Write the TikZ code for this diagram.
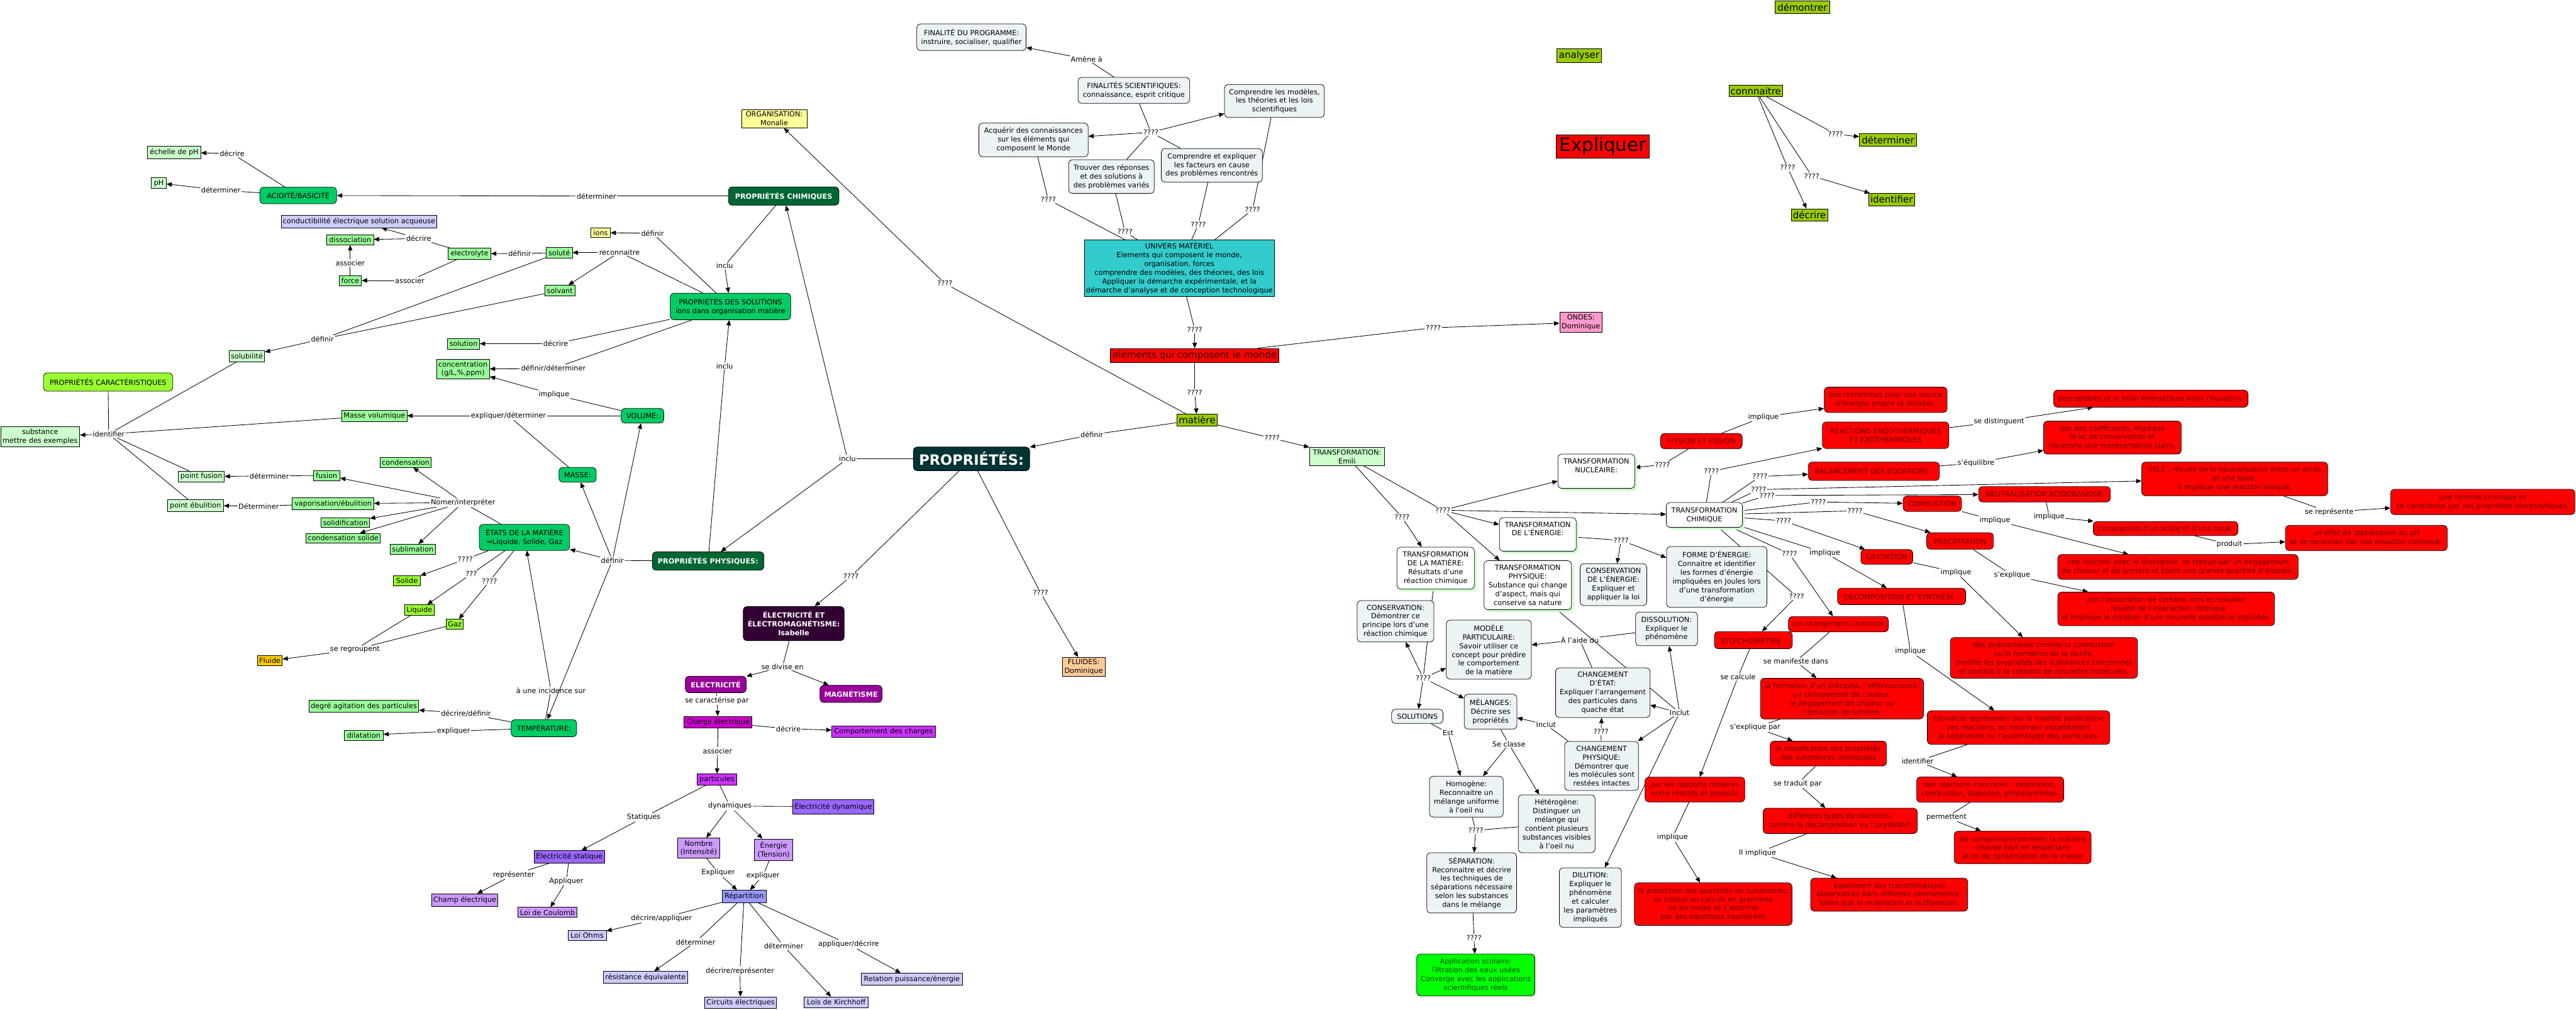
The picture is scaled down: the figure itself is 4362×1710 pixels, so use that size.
\documentclass[tikz,border=0pt]{standalone}
\usepackage{fontspec}
\setmainfont{DejaVu Sans}
\usetikzlibrary{arrows.meta}
\pgfdeclarelayer{bg}
\pgfsetlayers{bg,main}
\definecolor{cpale}{HTML}{CCFFCC}
\definecolor{cmid}{HTML}{99FF99}
\definecolor{cchart}{HTML}{99FF33}
\definecolor{cgreen}{HTML}{00CC66}
\definecolor{cdkgreen}{HTML}{006633}
\definecolor{cprop}{HTML}{003333}
\definecolor{cgray}{HTML}{ECF3F5}
\definecolor{cred}{HTML}{FF0000}
\definecolor{credtxt}{HTML}{6A0000}
\definecolor{cyel}{HTML}{FFFF99}
\definecolor{clav}{HTML}{CCCCFF}
\definecolor{colive}{HTML}{99CC00}
\definecolor{cteal}{HTML}{33CCCC}
\definecolor{cfluides}{HTML}{FFCC99}
\definecolor{condes}{HTML}{FF99CC}
\definecolor{cfluide}{HTML}{FFCC00}
\definecolor{cdkpurp}{HTML}{330033}
\definecolor{cpurp}{HTML}{990099}
\definecolor{cmag}{HTML}{CC00CC}
\definecolor{cviol}{HTML}{CC33FF}
\definecolor{cmedp}{HTML}{9966FF}
\definecolor{cltp}{HTML}{CC99FF}
\definecolor{cbluep}{HTML}{9999FF}
\definecolor{cappl}{HTML}{00FF00}
\definecolor{cshad}{HTML}{CCFFCC}
\newcommand\myfnt{\fontsize{12}{14.8}\selectfont}
\newcommand\Ep[2]{\draw[cline] (#1) -- (#2);}
\newcommand\Ea[2]{\draw[carr] (#1) -- (#2);}
\begin{document}
\begin{tikzpicture}[x=1pt,y=-1pt,
 every node/.style={font=\myfnt},
 bx/.style={draw=black, line width=0.8pt, align=center, inner sep=2.5pt},
 rbx/.style={bx, rounded corners=6pt},
 sz/.style 2 args={minimum width=#1pt, minimum height=#2pt},
 pale/.style={bx, fill=cpale},
 midg/.style={bx, fill=cmid},
 chart/.style={bx, fill=cchart},
 grn/.style={rbx, fill=cgreen},
 dkg/.style={rbx, fill=cdkgreen, text=white, font=\myfnt\bfseries},
 gbx/.style={rbx, fill=cgray},
 twh/.style={rbx, fill=white, preaction={fill=cshad, draw=none, transform canvas={shift={(4pt,-4pt)}}}},
 redb/.style={bx, fill=cred, text=credtxt},
 redr/.style={rbx, fill=cred, text=credtxt},
 yel/.style={bx, fill=cyel},
 lav/.style={bx, fill=clav},
 olv/.style={bx, fill=colive, font=\fontsize{16}{19}\selectfont},
 lab/.style={inner sep=1.5pt, align=center},
 cline/.style={draw=black, line width=0.9pt},
 carr/.style={cline, -{Triangle[length=9pt,width=7.5pt]}},
]
\begin{pgfonlayer}{bg}
\fill[white] (0,0) rectangle (4362,1710);
\end{pgfonlayer}
\useasboundingbox (0,0) rectangle (4362,1710);

% ===== top =====
\node[gbx,sz={185}{45}] (fprog) at (1645,63) {FINALITÉ DU PROGRAMME:\\instruire, socialiser, qualifier};
\node[gbx,sz={189}{44}] (fsci) at (1920,153) {FINALITÉS SCIENTIFIQUES:\\connaissance, esprit critique};
\node[gbx,sz={169}{56}] (cmod) at (2158,171) {Comprendre les modèles,\\les théories et les lois\\scientifiques};
\node[gbx,sz={185}{57}] (acq) at (1750,237) {Acquérir des connaissances\\sur les éléments qui\\composent le Monde};
\node[gbx,sz={145}{57}] (trouv) at (1882,299) {Trouver des réponses\\et des solutions à\\des problèmes variés};
\node[gbx,sz={171}{57}] (cexp) at (2052,280) {Comprendre et expliquer\\les facteurs en cause\\des problèmes rencontrés};
\node[bx,fill=cteal,sz={319}{95}] (univ) at (1997,454) {UNIVERS MATÉRIEL\\Elements qui composent le monde,\\organisation, forces\\comprendre des modèles, des théories, des lois\\Appliquer la démarche expérimentale, et la\\démarche d'analyse et de conception technologique};
\node[yel,sz={111}{31}] (org) at (1311,201) {ORGANISATION:\\Monalie};
\node[redb,text=black!80!red,sz={285}{24},font=\fontsize{16}{19}\selectfont,inner sep=1pt] (elem) at (2023,602) {eléments qui composent le monde};
\node[bx,fill=colive,sz={69}{20},font=\fontsize{16}{19}\selectfont,inner sep=1pt] (matiere) at (2027,711) {matière};
\node[bx,fill=condes,sz={72}{34}] (ondes) at (2677,546) {ONDES:\\Dominique};
\node[rbx,fill=cprop,text=white,sz={197}{40},font=\fontsize{24}{28}\selectfont\bfseries] (proprietes) at (1645,777) {PROPRIÉTÉS:};
\node[dkg,sz={187}{31}] (pchim) at (1327,332) {PROPRIÉTÉS CHIMIQUES};
\node[grn,sz={204}{45}] (psol) at (1237,519) {PROPRIÉTÉS DES SOLUTIONS\\ions dans organisation matière};
\node[dkg,sz={189}{31}] (pphys) at (1199,950) {PROPRIÉTÉS PHYSIQUES:};
\node[rbx,fill=cdkpurp,text=white,font=\myfnt\bfseries,sz={171}{58}] (elecem) at (1344,1056) {ÉLECTRICITÉ ET\\ÉLECTROMAGNÉTISME:\\Isabelle};
\node[bx,fill=cfluides,sz={72}{32}] (fluides) at (1835,1129) {FLUIDES:\\Dominique};

\node[olv,sz={92}{21},inner sep=1pt] (demontrer) at (3052,12) {démontrer};
\node[olv,sz={75}{23},inner sep=1pt] (analyser) at (2674,94) {analyser};
\node[olv,sz={91}{19},inner sep=1pt] (connaitre) at (2973,154) {connnaitre};
\node[olv,sz={97}{21},inner sep=1pt] (determiner) at (3197,237) {déterminer};
\node[olv,sz={78}{21},inner sep=1pt] (identifier) at (3203,338) {identifier};
\node[olv,sz={62}{21},inner sep=1pt] (decrire) at (3064,364) {décrire};
\node[bx,fill=cred,sz={157}{39},font=\fontsize{31}{34}\selectfont,inner sep=1pt] (expliquer) at (2714,248) {Expliquer};

% ===== acid / solutions =====
\node[pale,sz={90}{21}] (echelle) at (295,258) {échelle de pH};
\node[pale,sz={25}{18}] (ph) at (269,310) {pH};
\node[grn,sz={130}{28}] (acid) at (505,331) {ACIDITÉ/BASICITÉ};
\node[lav,sz={262}{21}] (cond) at (608,375) {conductibilité électrique solution acqueuse};
\node[midg,sz={79}{17}] (dissoc) at (593,406) {dissociation};
\node[midg,sz={38}{17}] (force) at (593,475) {force};
\node[midg,sz={72}{19}] (electrolyte) at (795,430) {electrolyte};
\node[midg,sz={44}{19}] (solute) at (947,428) {soluté};
\node[yel,sz={33}{16}] (ions) at (1017,394) {ions};
\node[midg,sz={51}{18}] (solvant) at (948,492) {solvant};
\node[pale,sz={60}{19}] (solubilite) at (418,603) {solubilité};
\node[midg,sz={54}{18}] (solution) at (785,582) {solution};
\node[midg,sz={90}{33}] (concentration) at (784,625) {concentration\\(g/L,\%,ppm)};
\node[rbx,fill=cchart,sz={219}{31}] (pcar) at (183,647) {PROPRIÉTÉS CARACTÉRISTIQUES};
\node[midg,sz={110}{19}] (massevol) at (634,704) {Masse volumique};
\node[grn,sz={72}{25}] (volume) at (1088,704) {VOLUME:};
\node[pale,sz={134}{34}] (substance) at (68,739) {substance\\mettre des exemples};
\node[pale,sz={78}{18}] (pfusion) at (341,807) {point fusion};
\node[midg,sz={45}{17}] (fusion) at (553,805) {fusion};
\node[midg,sz={86}{17}] (condensation) at (687,783) {condensation};
\node[pale,sz={95}{20}] (pebul) at (331,856) {point ébulition};
\node[midg,sz={138}{20}] (vapor) at (564,853) {vaporisation/ébulition};
\node[midg,sz={82}{16}] (solidif) at (585,885) {solidification};
\node[midg,sz={126}{16}] (condsol) at (581,911) {condensation solide};
\node[midg,sz={76}{17}] (sublim) at (699,930) {sublimation};
\node[grn,sz={153}{44}] (etats) at (888,910) {ÉTATS DE LA MATIÈRE\\=Liquide, Solide, Gaz};
\node[grn,sz={63}{25}] (masse) at (978,804) {MASSE:};
\node[chart,sz={45}{17}] (solide) at (689,983) {Solide};
\node[chart,sz={50}{18}] (liquide) at (710,1033) {Liquide};
\node[chart,sz={29}{17}] (gaz) at (770,1057) {Gaz};
\node[bx,fill=cfluide,sz={42}{17}] (fluide) at (457,1119) {Fluide};
\node[midg,sz={186}{20}] (agitation) at (616,1196) {degré agitation des particules};
\node[grn,sz={111}{29}] (temperature) at (921,1233) {TEMPÉRATURE:};
\node[midg,sz={66}{17}] (dilatation) at (616,1245) {dilatation};

% ===== electricity =====
\node[rbx,fill=cpurp,text=white,font=\myfnt\bfseries,sz={103}{28}] (electricite) at (1212,1159) {ELECTRICITÉ};
\node[rbx,fill=cpurp,text=white,font=\myfnt\bfseries,sz={105}{29}] (magnetisme) at (1441,1175) {MAGNÉTISME};
\node[bx,fill=cmag,sz={115}{20}] (charge) at (1216,1223) {Charge électrique};
\node[bx,fill=cviol,sz={175}{20}] (comport) at (1496,1239) {Comportement des charges};
\node[bx,fill=cviol,sz={67}{19}] (particules) at (1214,1320) {particules};
\node[bx,fill=cmedp,sz={137}{24}] (edyn) at (1411,1366) {Électricité dynamique};
\node[bx,fill=cmedp,sz={119}{21}] (estat) at (964,1451) {Electricité statique};
\node[bx,fill=cltp,sz={112}{21}] (champ) at (787,1524) {Champ électrique};
\node[bx,fill=cltp,sz={100}{17}] (coulomb) at (927,1545) {Loi de Coulomb};
\node[bx,fill=cltp,sz={72}{34}] (nombre) at (1183,1436) {Nombre\\(Intensité)};
\node[bx,fill=cltp,sz={65}{37}] (energie) at (1310,1439) {Énergie\\(Tension)};
\node[bx,fill=cbluep,sz={74}{21}] (repart) at (1260,1518) {Répartition};
\node[lav,sz={65}{17}] (ohms) at (994,1584) {Loi Ohms};
\node[lav,sz={143}{20}] (resist) at (1093,1655) {résistance équivalente};
\node[lav,sz={122}{20}] (circuits) at (1254,1698) {Circuits électriques};
\node[lav,sz={109}{18}] (kirch) at (1416,1697) {Lois de Kirchhoff};
\node[lav,sz={171}{20}] (relation) at (1544,1658) {Relation puissance/énergie};

% ===== transformation =====
\node[pale,sz={127}{31}] (trans) at (2281,773) {TRANSFORMATION:\\Emili};
\node[twh,sz={130}{58}] (tnuc) at (2703,798) {TRANSFORMATION\\NUCLÉAIRE:\\\strut};
\node[twh,sz={130}{57}] (tener) at (2604,905) {TRANSFORMATION\\DE L'ÉNERGIE:\\\strut};
\node[twh,sz={131}{71}] (tmat) at (2431,962) {TRANSFORMATION\\DE LA MATIÈRE:\\Résultats d'une\\réaction chimique};
\node[twh,sz={148}{83}] (tphys) at (2587,991) {TRANSFORMATION\\PHYSIQUE:\\Substance qui change\\d'aspect, mais qui\\conserve sa nature};
\node[twh,sz={129}{42}] (tchim) at (2886,872) {TRANSFORMATION\\CHIMIQUE};
\node[redr,sz={138}{26}] (fission) at (2881,747) {FISSION ET FUSION};
\node[redr,sz={208}{43}] (recherche) at (3193,677) {des recherches pour une source\\d'énergie propre et durable.};
\node[redr,sz={214}{45}] (reac) at (3193,737) {RÉACTIONS ENDOTHERMIQUES\\ET EXOTHERMIQUES};
\node[redr,sz={329}{29}] (percept) at (3642,675) {perceptibles et le bilan énergétique dans l'équation.};
\node[redr,sz={222}{31}] (balanc) at (3173,798) {BALANCEMENT DES ÉQUATIONS :};
\node[redr,sz={233}{56}] (coeff) at (3577,741) {par des coefficients, implique\\la loi de conservation et\\nécessite une représentation claire.};
\node[redr,sz={315}{57}] (sels) at (3784,811) {SELS : résulte de la neutralisation entre un acide\\et une base.\\Il implique une réaction ionique,};
\node[redr,sz={312}{43}] (formule) at (4204,850) {une formule chimique et\\se caractérise par ses propriétés électrolytiques.};
\node[redr,sz={223}{26}] (neutral) at (3462,837) {NEUTRALISATION ACIDOBASIQUE};
\node[redr,sz={245}{24}] (interac) at (3667,895) {l'interaction d'un acide et d'une base.};
\node[redr,sz={274}{43}] (stabil) at (4007,911) {un effet de stabilisation du pH\\et se reconnait par son équation chimique.};
\node[redr,sz={99}{26}] (combustion) at (3272,853) {COMBUSTION};
\node[redr,sz={407}{42}] (dioxy) at (3688,960) {une réaction avec le dioxygène, se traduit par un dégagement\\de chaleur et de lumière et libère une grande quantité d'énergie.};
\node[redr,sz={113}{28}] (precip) at (3319,916) {PRÉCIPITATION};
\node[redr,sz={367}{57}] (assoc) at (3668,1031) {par l'association de certains ions en solution\\, résulte de l'interaction chimique\\et implique la création d'une nouvelle substance insoluble.};
\node[redr,sz={88}{25}] (oxyd) at (3195,943) {OXYDATION};
\node[redr,sz={317}{69}] (phenom) at (3461,1114) {des phénomènes comme la combustion\\ou la formation de la rouille,\\modifie les propriétés des substances concernées\\et conduit à la création de nouvelles molécules.};
\node[redr,sz={217}{28}] (decomp) at (3220,1010) {DÉCOMPOSITION ET SYNTHÈSE :};
\node[redr,sz={309}{57}] (connrep) at (3418,1232) {connaître représenter par le modèle particulaire\\ces réactions, en montrant visuellement\\la séparation ou l'assemblage des particules.};
\node[redr,sz={249}{43}] (concretes) at (3370,1337) {des réactions concrètes : respiration,\\combustion, digestion, photosynthèse.};
\node[redr,sz={232}{55}] (comprendre) at (3425,1435) {de comprendrecomment la matière\\change tout en respectant\\la loi de conservation de la masse};
\node[redr,sz={169}{26}] (chgchim) at (3113,1057) {Un changement chimique};
\node[redr,sz={276}{69}] (formation) at (3119,1183) {la formation d'un précipité, l'effervescence,\\un changement de couleur,\\le dégagement de chaleur ou\\l'émission de lumière.};
\node[redr,sz={197}{42}] (modif) at (3096,1276) {la modification des propriétés\\des substances impliquées};
\node[redr,sz={261}{43}] (types) at (3116,1390) {différents types de réactions,\\comme la décomposition ou l'oxydation.};
\node[redr,sz={266}{56}] (egal) at (3199,1515) {également des transformations\\observables dans different phenomenes:\\telles que la respiration et la digestion.};
\node[redr,sz={132}{29}] (stoe) at (2969,1084) {STŒCHIOMÉTRIE :};
\node[redr,sz={169}{42}] (rapports) at (2870,1337) {par les rapports molaires\\entre réactifs et produits};
\node[redr,sz={267}{72}] (predic) at (2901,1531) {la prédiction des quantités de substances,\\se traduit en calculs en grammes\\ou en moles et s'exprime\\par des équations équilibrées};

\node[gbx,sz={113}{71}] (consener) at (2732,990) {CONSERVATION\\DE L'ÉNERGIE:\\Expliquer et\\appliquer la loi};
\node[gbx,sz={170}{103}] (forme) at (2907,977) {FORME D'ÉNERGIE:\\Connaitre et identifier\\les formes d'énergie\\impliquées en Joules lors\\d'une transformation\\d'énergie};
\node[gbx,sz={130}{70}] (conserv) at (2363,1052) {CONSERVATION:\\Démontrer ce\\principe lors d'une\\réaction chimique};
\node[gbx,sz={144}{100}] (modele) at (2521,1100) {MODÈLE\\PARTICULAIRE:\\Savoir utiliser ce\\concept pour prédire\\le comportement\\de la matière};
\node[gbx,sz={105}{57}] (dissol) at (2822,1065) {DISSOLUTION:\\Expliquer le\\phénomène};
\node[gbx,sz={87}{24}] (solutions) at (2400,1213) {SOLUTIONS};
\node[gbx,sz={89}{59}] (melanges) at (2524,1205) {MÉLANGES:\\Décrire ses\\propriétés};
\node[gbx,sz={160}{84}] (chgetat) at (2714,1173) {CHANGEMENT\\D'ÉTAT:\\Expliquer l'arrangement\\des particules dans\\quache état};
\node[gbx,sz={125}{83}] (chgphys) at (2712,1297) {CHANGEMENT\\PHYSIQUE:\\Démontrer que\\les molécules sont\\restées intactes};
\node[gbx,sz={125}{69}] (homog) at (2483,1349) {Homogène:\\Reconnaitre un\\mélange uniforme\\à l'oeil nu};
\node[gbx,sz={130}{98}] (heterog) at (2636,1395) {Hétérogène:\\Distinguer un\\mélange qui\\contient plusieurs\\substances visibles\\à l'oeil nu};
\node[gbx,sz={152}{102}] (separ) at (2492,1495) {SÉPARATION:\\Reconnaitre et décrire\\les techniques de\\séparations nécessaire\\selon les substances\\dans le mélange};
\node[rbx,fill=cappl,text=black!70!green,sz={200}{71}] (appli) at (2499,1651) {Application scolaire:\\Filtration des eaux usées\\Converge avec les applications\\scientifiques réels};
\node[gbx,sz={105}{101}] (dilution) at (2693,1520) {DILUTION:\\Expliquer le\\phénomène\\et calculer\\les paramètres\\impliqués};

% ===== linking phrases =====
\node[lab] (lamene) at (1840,100) {Amène à};
\node[lab] (lqfsci) at (1949,224) {????};
\node[lab] (lqa) at (1775,338) {????};
\node[lab] (lqt) at (1905,392) {????};
\node[lab] (lqc) at (2029,380) {????};
\node[lab] (lqm) at (2121,355) {????};
\node[lab] (lqelem) at (2023,558) {????};
\node[lab] (lqmat) at (2023,665) {????};
\node[lab] (lqondes) at (2427,555) {????};
\node[lab] (lqorg) at (1600,480) {????};
\node[lab] (ldefprop) at (1849,736) {définir};
\node[lab] (lqtrans) at (2154,742) {????};
\node[lab] (linclu3) at (1435,777) {inclu};
\node[lab] (lqelec) at (1441,976) {????};
\node[lab] (lqfluid) at (1762,1004) {????};
\node[lab] (linclu1) at (1227,450) {inclu};
\node[lab] (linclu2) at (1227,620) {inclu};
\node[lab] (lchimdet) at (1010,332) {déterminer};
\node[lab] (lacdecr) at (393,260) {décrire};
\node[lab] (lacdet) at (374,322) {déterminer};
\node[lab] (ldefions) at (1105,395) {définir};
\node[lab] (lrecon) at (1049,427) {reconnaitre};
\node[lab] (ldecrsol) at (941,582) {décrire};
\node[lab] (ldefdet) at (937,624) {définir/déterminer};
\node[lab] (ldef1) at (880,429) {définir};
\node[lab] (leldecr) at (709,404) {décrire};
\node[lab] (lassoc2) at (694,475) {associer};
\node[lab] (lassoc1) at (593,445) {associer};
\node[lab] (ldefsolub) at (546,574) {définir};
\node[lab] (limplvol) at (938,668) {implique};
\node[lab] (lexpdet) at (861,704) {expliquer/déterminer};
\node[lab] (lident) at (184,735) {identifier};
\node[lab] (ldetf) at (456,806) {déterminer};
\node[lab] (ldete) at (438,857) {Déterminer};
\node[lab] (lnomer) at (784,851) {Nomer/interpréter};
\node[lab] (ldefphys) at (1037,949) {définir};
\node[lab] (lqsol) at (788,947) {????};
\node[lab] (lqliq) at (798,972) {???};
\node[lab] (lqgaz) at (829,984) {????};
\node[lab] (lregroup) at (601,1100) {se regroupent};
\node[lab] (lincid) at (933,1169) {à une incidence sur};
\node[lab] (ldecrdef) at (789,1208) {décrire/définir};
\node[lab] (lexpldil) at (768,1238) {expliquer};

\node[lab] (ldivise) at (1325,1129) {se divise en};
\node[lab] (lcaract) at (1214,1186) {se caractérise par};
\node[lab] (ldecrch) at (1335,1234) {décrire};
\node[lab] (lassocch) at (1215,1272) {associer};
\node[lab] (ldyn) at (1236,1365) {dynamiques};
\node[lab] (lstat) at (1090,1384) {Statiques};
\node[lab] (lrepr) at (870,1481) {représenter};
\node[lab] (lappl) at (959,1492) {Appliquer};
\node[lab] (lExpl) at (1216,1478) {Expliquer};
\node[lab] (lexpl) at (1292,1483) {expliquer};
\node[lab] (ldecrappl) at (1120,1555) {décrire/appliquer};
\node[lab] (ldetr) at (1178,1595) {déterminer};
\node[lab] (ldecrrep) at (1253,1644) {décrire/représenter};
\node[lab] (ldetk) at (1327,1602) {déterminer};
\node[lab] (lappdec) at (1437,1599) {appliquer/décrire};

\node[lab] (lqdet) at (3108,227) {????};
\node[lab] (lqdec) at (3027,284) {????};
\node[lab] (lqid) at (3068,298) {????};

\node[lab] (lhub) at (2443,864) {????};
\node[lab] (lqtm) at (2374,876) {????};
\node[lab] (lqfis) at (2815,787) {????};
\node[lab] (limplfis) at (2986,706) {implique};
\node[lab] (lqreac) at (2898,798) {????};
\node[lab] (ldisting) at (3385,714) {se distinguent};
\node[lab] (lqbal) at (2980,807) {????};
\node[lab] (lequil) at (3346,784) {s'équilibre};
\node[lab] (lqsels) at (2978,829) {????};
\node[lab] (lrepres) at (3944,867) {se représente};
\node[lab] (lqneut) at (2992,839) {????};
\node[lab] (limplneut) at (3470,875) {implique};
\node[lab] (lproduit) at (3775,922) {produit};
\node[lab] (lqcomb) at (3079,850) {????};
\node[lab] (limplcomb) at (3378,881) {implique};
\node[lab] (lqprec) at (3141,865) {????};
\node[lab] (lsexpl) at (3407,974) {s'explique};
\node[lab] (lqoxy) at (3020,882) {????};
\node[lab] (limploxy) at (3312,969) {implique};
\node[lab] (limpldec) at (3090,936) {implique};
\node[lab] (limpldec2) at (3235,1103) {implique};
\node[lab] (lident2) at (3247,1289) {identifier};
\node[lab] (lpermet) at (3296,1384) {permettent};
\node[lab] (lqchg) at (3030,938) {????};
\node[lab] (lmanif) at (3041,1120) {se manifeste dans};
\node[lab] (lsexplp) at (2972,1232) {s'explique par};
\node[lab] (ltraduit) at (3044,1327) {se traduit par};
\node[lab] (lilimpl) at (2976,1444) {Il implique};
\node[lab] (lqstoe) at (3042,1010) {????};
\node[lab] (lcalc) at (2943,1146) {se calcule};
\node[lab] (limplrap) at (2832,1418) {implique};
\node[lab] (lqener) at (2745,915) {????};
\node[lab] (lqtmat) at (2410,1148) {????};
\node[lab] (laide) at (2675,1083) {À l'aide du};
\node[lab] (linclut1) at (2844,1207) {Inclut};
\node[lab] (linclut2) at (2618,1227) {Inclut};
\node[lab] (lqcp) at (2711,1239) {????};
\node[lab] (lest) at (2452,1241) {Est};
\node[lab] (lclasse) at (2555,1260) {Se classe};
\node[lab] (lqsep) at (2499,1406) {????};
\node[lab] (lqapp) at (2496,1588) {????};

% ===== connectors =====
\begin{pgfonlayer}{bg}
\Ep{fsci}{lamene}\Ea{lamene}{fprog}
\Ep{fsci}{lqfsci}\Ea{lqfsci}{acq}\Ea{lqfsci}{cmod}\Ep{lqfsci}{trouv}\Ep{lqfsci}{cexp}
\Ep{acq}{lqa}\Ep{lqa}{univ}
\Ep{trouv}{lqt}\Ep{lqt}{univ}
\Ep{cexp}{lqc}\Ep{lqc}{univ}
\Ep{cmod}{lqm}\Ep{lqm}{univ}
\Ep{univ}{lqelem}\Ea{lqelem}{elem}
\Ep{elem}{lqmat}\Ea{lqmat}{matiere}
\Ep{elem}{lqondes}\Ea{lqondes}{ondes}
\Ep{matiere}{lqorg}\Ea{lqorg}{org}
\Ep{matiere}{ldefprop}\Ea{ldefprop}{proprietes}
\Ep{matiere}{lqtrans}\Ea{lqtrans}{trans}
\Ep{proprietes}{linclu3}\Ea{linclu3}{pphys}\Ea{linclu3}{pchim}
\Ep{proprietes}{lqelec}\Ea{lqelec}{elecem}
\Ep{proprietes}{lqfluid}\Ea{lqfluid}{fluides}
\Ep{pchim}{linclu1}\Ea{linclu1}{psol}
\Ep{pphys}{linclu2}\Ea{linclu2}{psol}
\Ep{pchim}{lchimdet}\Ea{lchimdet}{acid}
\Ep{acid}{lacdecr}\Ea{lacdecr}{echelle}
\Ep{acid}{lacdet}\Ea{lacdet}{ph}
\Ep{psol}{ldefions}\Ea{ldefions}{ions}
\Ep{psol}{lrecon}\Ea{lrecon}{solute}\Ea{lrecon}{solvant}
\Ep{psol}{ldecrsol}\Ea{ldecrsol}{solution}
\Ep{psol}{ldefdet}\Ea{ldefdet}{concentration}
\Ep{solute}{ldef1}\Ea{ldef1}{electrolyte}
\Ep{electrolyte}{leldecr}\Ea{leldecr}{dissoc}\Ea{leldecr}{cond}
\Ep{electrolyte}{lassoc2}\Ea{lassoc2}{force}
\Ep{force}{lassoc1}\Ea{lassoc1}{dissoc}
\Ep{solute}{ldefsolub}\Ep{solvant}{ldefsolub}\Ea{ldefsolub}{solubilite}
\Ep{volume}{limplvol}\Ea{limplvol}{concentration}
\Ep{volume}{lexpdet}\Ep{masse}{lexpdet}\Ea{lexpdet}{massevol}
\Ep{pcar}{lident}\Ep{solubilite}{lident}\Ep{massevol}{lident}\Ep{pfusion}{lident}\Ep{pebul}{lident}\Ea{lident}{substance}
\Ep{fusion}{ldetf}\Ea{ldetf}{pfusion}
\Ep{vapor}{ldete}\Ea{ldete}{pebul}
\Ep{etats}{lnomer}\Ea{lnomer}{condensation}\Ea{lnomer}{fusion}\Ea{lnomer}{vapor}\Ea{lnomer}{solidif}\Ea{lnomer}{condsol}\Ea{lnomer}{sublim}
\Ep{pphys}{ldefphys}\Ea{ldefphys}{etats}\Ea{ldefphys}{masse}\Ea{ldefphys}{volume}\Ea{ldefphys}{temperature}
\Ep{etats}{lqsol}\Ea{lqsol}{solide}
\Ep{etats}{lqliq}\Ea{lqliq}{liquide}
\Ep{etats}{lqgaz}\Ea{lqgaz}{gaz}
\Ep{liquide}{lregroup}\Ep{gaz}{lregroup}\Ea{lregroup}{fluide}
\Ep{temperature}{lincid}\Ea{lincid}{etats}
\Ep{temperature}{ldecrdef}\Ea{ldecrdef}{agitation}
\Ep{temperature}{lexpldil}\Ea{lexpldil}{dilatation}

\Ep{elecem}{ldivise}\Ea{ldivise}{electricite}\Ea{ldivise}{magnetisme}
\Ep{electricite}{lcaract}\Ea{lcaract}{charge}
\Ep{charge}{ldecrch}\Ea{ldecrch}{comport}
\Ep{charge}{lassocch}\Ea{lassocch}{particules}
\Ep{particules}{lstat}\Ea{lstat}{estat}
\Ep{particules}{ldyn}\Ep{ldyn}{edyn}\Ea{ldyn}{nombre}\Ea{ldyn}{energie}
\Ep{estat}{lrepr}\Ea{lrepr}{champ}
\Ep{estat}{lappl}\Ea{lappl}{coulomb}
\Ep{nombre}{lExpl}\Ea{lExpl}{repart}
\Ep{energie}{lexpl}\Ea{lexpl}{repart}
\Ep{repart}{ldecrappl}\Ea{ldecrappl}{ohms}
\Ep{repart}{ldetr}\Ea{ldetr}{resist}
\Ep{repart}{ldecrrep}\Ea{ldecrrep}{circuits}
\Ep{repart}{ldetk}\Ea{ldetk}{kirch}
\Ep{repart}{lappdec}\Ea{lappdec}{relation}

\Ep{connaitre}{lqdet}\Ea{lqdet}{determiner}
\Ep{connaitre}{lqdec}\Ea{lqdec}{decrire}
\Ep{connaitre}{lqid}\Ea{lqid}{identifier}

\Ep{trans}{lhub}\Ea{lhub}{tnuc}\Ea{lhub}{tchim}\Ea{lhub}{tener}\Ea{lhub}{tphys}
\Ep{trans}{lqtm}\Ea{lqtm}{tmat}
\Ep{fission}{lqfis}\Ea{lqfis}{tnuc}
\Ep{fission}{limplfis}\Ea{limplfis}{recherche}
\Ep{tchim}{lqreac}\Ea{lqreac}{reac}
\Ep{reac}{ldisting}\Ea{ldisting}{percept}
\Ep{tchim}{lqbal}\Ea{lqbal}{balanc}
\Ep{balanc}{lequil}\Ea{lequil}{coeff}
\Ep{tchim}{lqsels}\Ea{lqsels}{sels}
\Ep{sels}{lrepres}\Ea{lrepres}{formule}
\Ep{tchim}{lqneut}\Ea{lqneut}{neutral}
\Ep{neutral}{limplneut}\Ea{limplneut}{interac}
\Ep{interac}{lproduit}\Ea{lproduit}{stabil}
\Ep{tchim}{lqcomb}\Ea{lqcomb}{combustion}
\Ep{combustion}{limplcomb}\Ea{limplcomb}{dioxy}
\Ep{tchim}{lqprec}\Ea{lqprec}{precip}
\Ep{precip}{lsexpl}\Ea{lsexpl}{assoc}
\Ep{tchim}{lqoxy}\Ea{lqoxy}{oxyd}
\Ep{oxyd}{limploxy}\Ea{limploxy}{phenom}
\Ep{tchim}{limpldec}\Ea{limpldec}{decomp}
\Ep{decomp}{limpldec2}\Ea{limpldec2}{connrep}
\Ep{connrep}{lident2}\Ea{lident2}{concretes}
\Ep{concretes}{lpermet}\Ea{lpermet}{comprendre}
\Ep{tchim}{lqchg}\Ea{lqchg}{chgchim}
\Ep{chgchim}{lmanif}\Ea{lmanif}{formation}
\Ep{formation}{lsexplp}\Ea{lsexplp}{modif}
\Ep{modif}{ltraduit}\Ea{ltraduit}{types}
\Ep{types}{lilimpl}\Ea{lilimpl}{egal}
\Ep{tchim}{lqstoe}\Ea{lqstoe}{stoe}
\Ep{stoe}{lcalc}\Ea{lcalc}{rapports}
\Ep{rapports}{limplrap}\Ea{limplrap}{predic}
\Ep{tener}{lqener}\Ea{lqener}{consener}\Ea{lqener}{forme}
\Ep{tmat}{lqtmat}\Ea{lqtmat}{conserv}\Ea{lqtmat}{modele}\Ea{lqtmat}{solutions}\Ea{lqtmat}{melanges}
\Ep{dissol}{laide}\Ep{chgetat}{laide}\Ea{laide}{modele}
\Ep{tphys}{linclut1}\Ea{linclut1}{chgetat}\Ea{linclut1}{chgphys}\Ea{linclut1}{dissol}\Ea{linclut1}{dilution}
\Ep{chgphys}{linclut2}\Ea{linclut2}{melanges}
\Ep{chgphys}{lqcp}\Ea{lqcp}{chgetat}
\Ep{melanges}{lclasse}\Ea{lclasse}{homog}\Ea{lclasse}{heterog}
\Ep{solutions}{lest}\Ea{lest}{homog}
\Ep{homog}{lqsep}\Ep{heterog}{lqsep}\Ea{lqsep}{separ}
\Ep{separ}{lqapp}\Ea{lqapp}{appli}
\end{pgfonlayer}
\end{tikzpicture}
\end{document}
